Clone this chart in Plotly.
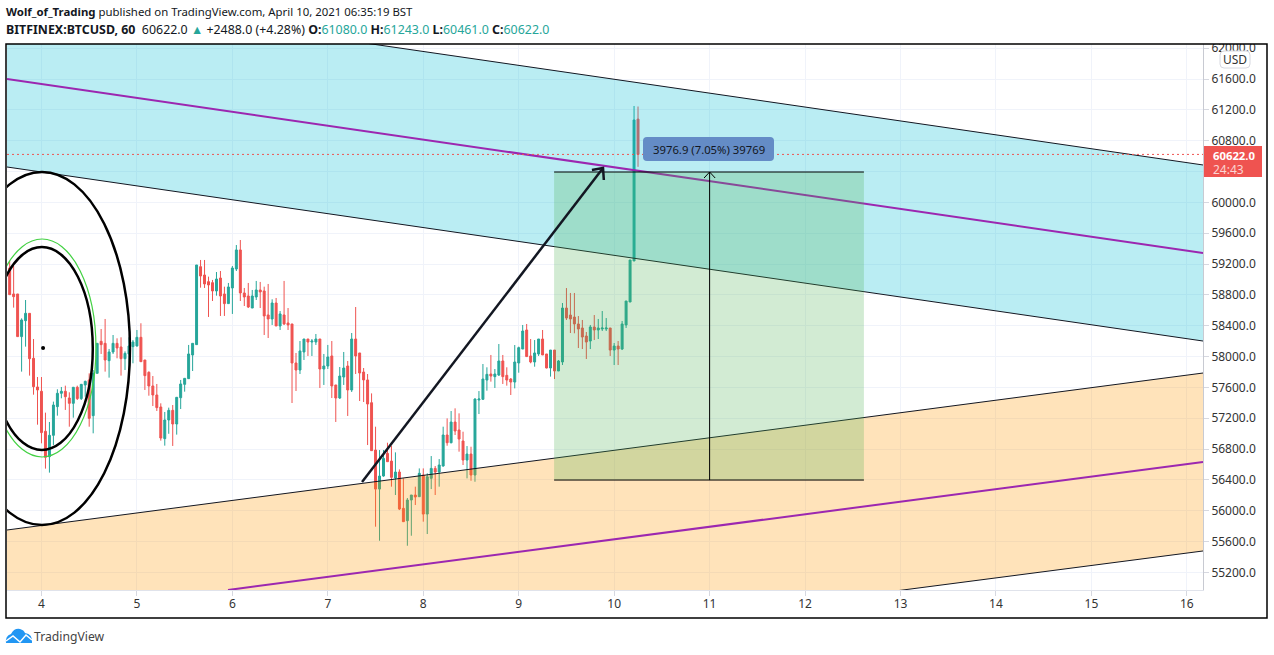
import plotly.graph_objects as go

# hourly bars, hour 0 = April 4 00:00
hours = list(range(-8, 151))
opens = [59149, 58812, 58812, 58259, 58466, 58561, 57978, 57606, 57550, 57031, 56702, 56979, 57351, 57524, 57550, 57463,
         57394, 57602, 57455, 57632, 57697, 57234, 57783, 58198, 58172, 57947, 58060, 58172, 58125, 57973, 58034, 58129,
         58138, 58250, 57956, 57796, 57619, 57502, 57346, 56936, 57178, 57303, 57126, 57467, 57640, 57714, 58021, 58155,
         59166, 59058, 58972, 58959, 58851, 59019, 58812, 58687, 58890, 59136, 59383, 58825, 58786, 58630, 58773, 58864,
         58851, 58540, 58488, 58695, 58397, 58540, 58436, 58423, 57917, 57826, 58060, 58228, 58189, 58189, 58228, 57839,
         57878, 58008, 57632, 57463, 57735, 57878, 57567, 58228, 58047, 57800, 57697, 57402, 56788, 56282, 56451, 56745,
         56645, 56425, 56503, 56032, 55872, 56140, 56205, 56183, 56464, 55958, 56421, 56550, 56503, 56581, 56983, 56883,
         57151, 57048, 56905, 56658, 56736, 56464, 57437, 57446, 57696, 57774, 57740, 57761, 57943, 57757, 57709, 57670,
         57917, 58098, 58345, 58008, 57930, 58034, 58228, 58034, 57852, 58085, 57813, 57930, 58630, 58539, 58513, 58423,
         58371, 58267, 58202, 58384, 58345, 58358, 58358, 58371, 58085, 58137, 58098, 58410, 58708, 59240, 61080]
highs = [59240, 59175, 58812, 58496, 58734, 58561, 58228, 57735, 57735, 57273, 57152, 57416, 57576, 57606, 57623, 57537,
         57606, 57623, 57645, 57688, 57783, 57826, 58172, 58358, 58488, 58099, 58280, 58237, 58250, 58068, 58250, 58215,
         58345, 58432, 57956, 57809, 57748, 57645, 57394, 57282, 57338, 57372, 57476, 57697, 57718, 58151, 58172, 59188,
         59253, 59253, 59037, 58994, 59097, 59110, 58907, 58955, 59175, 59447, 59512, 58890, 58955, 58864, 58981, 58968,
         58907, 58942, 58743, 58760, 58591, 58981, 58630, 58423, 58047, 58202, 58228, 58228, 58228, 58293, 58228, 58034,
         58151, 58202, 57632, 57865, 58060, 57943, 58306, 58643, 58047, 57852, 57774, 57523, 57091, 56788, 56788, 56883,
         56840, 56758, 56537, 56421, 56166, 56205, 56313, 56550, 56550, 56486, 56710, 56581, 56671, 57091, 57199, 57294,
         57329, 57264, 57026, 56840, 56831, 57458, 57553, 57904, 57861, 58021, 57839, 58163, 58021, 57861, 57722, 58150,
         58129, 58410, 58423, 58228, 58215, 58228, 58345, 58034, 58085, 58085, 57956, 58695, 58889, 58825, 58825, 58526,
         58475, 58319, 58410, 58539, 58488, 58591, 58500, 58371, 58176, 58202, 58462, 58721, 59253, 61250, 61243]
lows = [58803, 58635, 58259, 57805, 58129, 57753, 57506, 57117, 56875, 56547, 56495, 56854, 57234, 57459, 57308, 57091,
        57208, 57437, 57437, 57480, 57091, 57005, 57783, 58034, 57805, 57727, 58034, 57978, 57753, 57826, 57805, 57913,
        58129, 57934, 57567, 57493, 57359, 57295, 56910, 56845, 56999, 56841, 56988, 57320, 57545, 57710, 57813, 58155,
        58894, 58890, 58514, 58721, 58790, 58527, 58527, 58687, 58553, 59110, 58721, 58656, 58630, 58630, 58734, 58630,
        58280, 58241, 58410, 58397, 58345, 58410, 58345, 57398, 57554, 57774, 57956, 58008, 58008, 58151, 57593, 57632,
        57839, 57463, 57152, 57450, 57632, 57230, 57541, 57774, 57424, 57411, 56853, 56780, 55794, 55612, 56442, 56637,
        56313, 56205, 56010, 55859, 55547, 55677, 56075, 56183, 55859, 55699, 56282, 56205, 56313, 56572, 56844, 56875,
        56983, 56767, 56594, 56421, 56390, 56377, 57255, 57437, 57558, 57675, 57593, 57748, 57645, 57623, 57502, 57588,
        57791, 58098, 58000, 57913, 57869, 58008, 58021, 57848, 57740, 57709, 57813, 57891, 58475, 58306, 58302, 58111,
        58098, 57969, 58098, 58215, 58228, 58332, 58332, 58008, 57891, 57891, 58085, 58371, 58708, 59240, 60461]
closes = [58803, 58777, 58259, 58475, 58561, 57973, 57610, 57567, 57014, 56694, 56979, 57372, 57524, 57550, 57480, 57394,
          57602, 57455, 57640, 57679, 57199, 57783, 58172, 58155, 57956, 58060, 58172, 58112, 57973, 58042, 58138, 58189,
          58250, 57934, 57753, 57619, 57502, 57338, 56944, 57178, 57303, 57126, 57472, 57645, 57718, 58034, 58172, 59188,
          59045, 58942, 58929, 58851, 59006, 58786, 58687, 58903, 59149, 59383, 58825, 58773, 58643, 58786, 58864, 58838,
          58527, 58488, 58695, 58397, 58553, 58423, 58410, 57917, 57826, 58073, 58228, 58189, 58202, 58228, 57839, 57878,
          57995, 57619, 57463, 57748, 57852, 57567, 58228, 58008, 57787, 57697, 57385, 56780, 56282, 56451, 56680, 56637,
          56434, 56503, 56023, 55859, 56140, 56205, 56179, 56486, 55958, 56442, 56550, 56503, 56594, 56983, 56883, 57151,
          57035, 56931, 56658, 56736, 56464, 57450, 57450, 57709, 57770, 57748, 57774, 57943, 57740, 57696, 57670, 57930,
          58116, 58332, 58000, 57930, 58047, 58228, 58021, 57852, 58085, 57813, 57943, 58630, 58500, 58488, 58423, 58358,
          58254, 58189, 58384, 58345, 58371, 58371, 58371, 58085, 58137, 58098, 58423, 58721, 59253, 61069, 60622]

day_ticks = [0, 24, 48, 72, 96, 120, 144, 168, 192, 216, 240, 264, 288]
day_labels = ["4", "5", "6", "7", "8", "9", "10", "11", "12", "13", "14", "15", "16"]
x_range = [-8.67, 292.06]
y_range = [54973, 62054]
last_price = 60622

# drawings, in axis units
blue_upper_x, blue_upper_y = [-8.67, 292.06], [62743, 60485]
blue_mid_x, blue_mid_y = [-8.67, 292.06], [61600, 59344]
blue_lower_x, blue_lower_y = [-8.67, 292.06], [60459, 58202]
orange_upper_x, orange_upper_y = [-8.67, 292.06], [55751, 57787]
orange_mid_x, orange_mid_y = [46.9, 292.06], [54973, 56633]
orange_lower_x, orange_lower_y = [-8.67, 292.06], [53462, 55479]

big_ring_x, big_ring_y = [-22.0, 22.25], [55816, 60394]
mid_ring_x, mid_ring_y = [-12.7, 12.9], [56789, 59421]
green_ring_x, green_ring_y = [-13.4, 13.7], [56698, 59525]
dot_x, dot_y = [0.4], [58111]

trend_x, trend_y = [80.6, 141.2], [56373, 60446]
trend_barb_x, trend_barb_y = [138.4, 141.2, 141.4], [60420, 60446, 60290]
pos_left, pos_right = 128.9, 206.8
pos_top, pos_bottom = 60394, 56399
measure_x, measure_y = [168.0, 168.0], [56399, 60394]
measure_barb_x, measure_barb_y = [166.6, 168.0, 169.4], [60316, 60394, 60316]

BLACK = "#131722"
PURPLE = "#9C27B0"
UP = "#26A69A"
DOWN = "#EF5350"
W, H = 1274, 655
L, R, T, B = 7, 1203, 44, 590


def px(x):
    return (x - L) / (R - L)


def py(y):
    return (B - y) / (B - T)


def poly(xs, ys):
    pts = " L ".join(f"{a} {b}" for a, b in zip(xs, ys))
    return f"M {pts} Z"


def seg(xs, ys, color=BLACK, width=1, dash="solid"):
    pts = " L ".join(f"{a} {b}" for a, b in zip(xs, ys))
    return dict(type="path", path=f"M {pts}", line=dict(color=color, width=width, dash=dash))


def round_box(x0, y0, x1, y1, r, **kw):
    a0, a1 = px(x0), px(x1)
    b0, b1 = py(y0), py(y1)
    rx = r / (R - L)
    ry = r / (B - T)
    path = (f"M {a0 + rx} {b0} L {a1 - rx} {b0} Q {a1} {b0} {a1} {b0 - ry} L {a1} {b1 + ry} Q {a1} {b1} {a1 - rx} {b1} "
            f"L {a0 + rx} {b1} Q {a0} {b1} {a0} {b1 + ry} L {a0} {b0 - ry} Q {a0} {b0} {a0 + rx} {b0} Z")
    return dict(type="path", path=path, xref="paper", yref="paper", **kw)


def paper_rect(x0, y0, x1, y1, **kw):
    return dict(type="rect", xref="paper", yref="paper", x0=px(x0), x1=px(x1), y0=py(y1), y1=py(y0), **kw)


def note(x, y, text, size=12, color=BLACK, anchor="left", family="Noto Sans"):
    return dict(xref="paper", yref="paper", x=px(x), y=py(y), text=text, showarrow=False, xanchor=anchor,
                yanchor="middle", font=dict(family=family, size=size, color=color))


fig = go.Figure()
fig.add_trace(go.Candlestick(
    x=hours, open=opens, high=highs, low=lows, close=closes,
    increasing=dict(line=dict(color=UP, width=1), fillcolor=UP),
    decreasing=dict(line=dict(color=DOWN, width=1), fillcolor=DOWN),
    whiskerwidth=0, hoverinfo="skip",
))
fig.add_trace(go.Scatter(x=dot_x, y=dot_y, mode="markers", marker=dict(color="black", size=4), hoverinfo="skip"))

shapes = [
    # channels
    dict(type="path", path=poly(blue_upper_x + blue_lower_x[::-1], blue_upper_y + blue_lower_y[::-1]),
         fillcolor="rgba(0,188,212,0.27)", line=dict(width=0)),
    dict(type="path", path=poly(orange_upper_x + orange_lower_x[::-1], orange_upper_y + orange_lower_y[::-1]),
         fillcolor="rgba(255,152,0,0.27)", line=dict(width=0)),
    seg(blue_upper_x, blue_upper_y),
    seg(blue_lower_x, blue_lower_y),
    seg(blue_mid_x, blue_mid_y, PURPLE, 2),
    seg(orange_upper_x, orange_upper_y),
    seg(orange_lower_x, orange_lower_y),
    seg(orange_mid_x, orange_mid_y, PURPLE, 2),
    # rings
    dict(type="circle", x0=big_ring_x[0], x1=big_ring_x[1], y0=big_ring_y[0], y1=big_ring_y[1],
         line=dict(color="black", width=2.5)),
    dict(type="circle", x0=mid_ring_x[0], x1=mid_ring_x[1], y0=mid_ring_y[0], y1=mid_ring_y[1],
         line=dict(color="black", width=2.5)),
    dict(type="circle", x0=green_ring_x[0], x1=green_ring_x[1], y0=green_ring_y[0], y1=green_ring_y[1],
         line=dict(color="#43D143", width=1.2)),
    # long position box
    dict(type="rect", x0=pos_left, x1=pos_right, y0=pos_bottom, y1=pos_top,
         fillcolor="rgba(76,175,80,0.25)", line=dict(width=0)),
    seg([pos_left, pos_right], [pos_top, pos_top], "black", 1),
    seg([pos_left, pos_right], [pos_bottom, pos_bottom], "black", 1),
    seg(measure_x, measure_y, "black", 1),
    seg(measure_barb_x, measure_barb_y, "black", 1),
    # arrow
    seg(trend_x, trend_y, BLACK, 2.5),
    seg(trend_barb_x, trend_barb_y, BLACK, 2.5),
    # last price line
    seg(x_range, [last_price, last_price], DOWN, 1, "2px,3px"),
    round_box(643, 137, 774, 161, 4, fillcolor="#648CC6", line=dict(width=0)),
    # axis furniture
    paper_rect(1204, 30, 1266, 44, fillcolor="white", line=dict(width=0)),
    paper_rect(1204, 146, 1262, 177, fillcolor=DOWN, line=dict(width=0)),
    round_box(1220, 51, 1250, 68, 4, fillcolor="white", line=dict(color="#D6D8E0", width=1)),
    paper_rect(6, 44, 1267, 618, line=dict(color="black", width=1.5)),
    # logo cloud
    dict(type="path", xref="paper", yref="paper", fillcolor="#2196F3", line=dict(width=0),
         path=(f"M {px(6)} {py(643)} Q {px(5)} {py(636)} {px(11)} {py(634)} Q {px(14)} {py(628)} {px(20)} {py(629)} "
               f"Q {px(24)} {py(630)} {px(25)} {py(633)} Q {px(33)} {py(634)} {px(32)} {py(643)} Z")),
    dict(type="path", xref="paper", yref="paper", line=dict(color="white", width=1.5),
         path=(f"M {px(6)} {py(641)} L {px(13)} {py(636)} L {px(20)} {py(642)} L {px(26)} {py(635)} L {px(32)} {py(640)}")),
]

header1 = ("<b>Wolf_of_Trading</b> published on TradingView.com, April 10, 2021 06:35:19 BST")
teal = "<span style='color:#26A69A'>{}</span>"
header2 = ("<b>BITFINEX:BTCUSD, 60</b>  60622.0 " + teal.format("▲") + " +2488.0 (+4.28%) <b>O:</b>" + teal.format("61080.0")
           + " <b>H:</b>" + teal.format("61243.0") + " <b>L:</b>" + teal.format("60461.0")
           + " <b>C:</b>" + teal.format("60622.0"))

annotations = [
    note(4, 12, header1, 11.4),
    note(4, 29, header2, 12.4),
    note(708.5, 149, "3976.9 (7.05%) 39769", 11.3, BLACK, "center"),
    note(1235, 59.5, "USD", 12, "#333333", "center"),
    note(1234, 155, "<b>60622.0</b>", 11.3, "white", "center"),
    note(1211, 170, "24:43", 12, "rgba(255,255,255,0.75)"),
    note(32, 636.5, "TradingView", 12.2, "#444444"),
]

fig.update_layout(
    width=W, height=H,
    margin=dict(l=L, r=W - R, t=T, b=H - B, autoexpand=False),
    paper_bgcolor="white", plot_bgcolor="white",
    showlegend=False, boxgap=0.3,
    shapes=shapes, annotations=annotations,
    font=dict(family="Noto Sans", color="#333333", size=12),
)
fig.update_xaxes(
    range=x_range, rangeslider_visible=False, tickmode="array", tickvals=day_ticks, ticktext=day_labels,
    showgrid=True, gridcolor="#F0F3FA", zeroline=False, ticks="outside", ticklen=5, tickcolor="#D6D8E0",
    showline=True, linecolor="#E0E3EB", tickfont=dict(size=12, color="#333333"), ticklabelstandoff=-2,
)
fig.update_yaxes(
    range=y_range, side="right", dtick=400, tick0=0, tickformat=".1f",
    showgrid=True, gridcolor="#F0F3FA", zeroline=False, ticks="outside", ticklen=5, tickcolor="#D6D8E0",
    showline=True, linecolor="#C8CAD2", tickfont=dict(size=12, color="#333333"),
)

fig.write_html("out.html", config=dict(displayModeBar=False), post_script="document.body.style.margin='0';")
